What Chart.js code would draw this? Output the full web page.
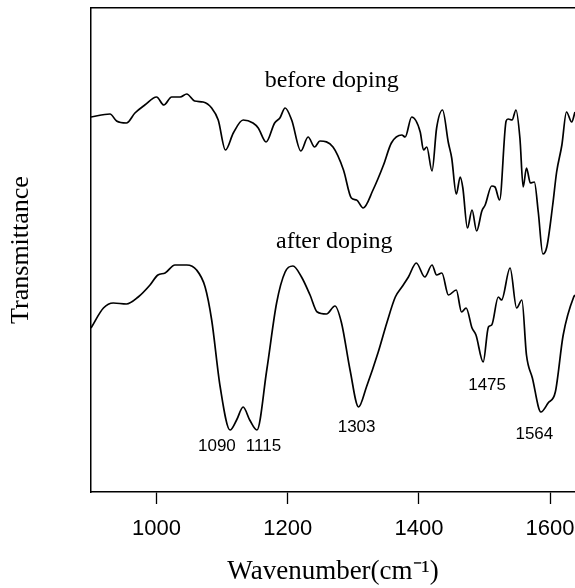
<!DOCTYPE html>
<html>
<head>
<meta charset="utf-8">
<script src="https://cdn.jsdelivr.net/npm/chart.js@4/dist/chart.umd.min.js"></script>
<style>
  body { margin: 0; background: #fff; }
  #wrap { width: 575px; height: 588px; }
</style>
</head>
<body>
<div id="wrap"><canvas id="irChart" width="575" height="588"></canvas></div>
<script>
// wavenumber (cm-1) and transmittance (a.u.)
const beforeWn = [900, 929, 939, 954, 967, 982, 1000, 1011, 1023, 1036, 1046, 1058, 1071, 1084, 1094, 1105,
  1117, 1132, 1147, 1155, 1167, 1180, 1188, 1196, 1206, 1220, 1231, 1241, 1249, 1269, 1285, 1297, 1305,
  1315, 1330, 1346, 1358, 1374, 1379, 1389, 1402, 1407, 1412, 1420, 1427, 1436, 1445, 1450, 1457, 1463,
  1467, 1474, 1481, 1488, 1496, 1501, 1511, 1516, 1523, 1533, 1536, 1542, 1548, 1554, 1559, 1564, 1570,
  1576, 1582, 1589, 1595, 1604, 1610, 1618, 1625, 1633, 1638];
const beforeT = [375, 378, 371, 369, 379, 387, 395, 387, 395, 395, 398, 391, 390, 384, 372, 342,
  359, 372, 369, 364, 350, 369, 374, 384, 372, 341, 355, 345, 351, 345, 322, 294, 292,
  284, 302, 327, 349, 357, 355, 375, 360, 342, 345, 321, 364, 382, 349, 334, 298, 315,
  304, 264, 282, 261, 281, 287, 306, 305, 292, 371, 373, 372, 382, 354, 305, 324, 309,
  310, 280, 238, 245, 287, 320, 347, 380, 370, 380];

const afterWn = [900, 919, 934, 954, 972, 990, 1002, 1013, 1028, 1046, 1061, 1074, 1084, 1097, 1112, 1122,
  1132, 1142, 1153, 1168, 1183, 1196, 1208, 1221, 1234, 1245, 1259, 1272, 1282, 1295, 1308, 1320, 1338,
  1351, 1364, 1374, 1384, 1396, 1409, 1420, 1427, 1435, 1445, 1457, 1465, 1472, 1481, 1487, 1498, 1506,
  1511, 1521, 1526, 1539, 1549, 1557, 1564, 1573, 1586, 1597, 1608, 1620, 1636, 1638];
const afterT = [164, 184, 189, 188, 195, 207, 217, 219, 227, 227, 222, 205, 172, 105, 62, 72,
  85, 72, 62, 122, 189, 220, 226, 215, 197, 180, 178, 186, 169, 122, 85, 105, 140,
  169, 195, 205, 215, 229, 215, 227, 217, 219, 197, 202, 180, 184, 164, 157, 130, 165,
  167, 195, 192, 224, 184, 192, 137, 114, 80, 89, 100, 157, 195, 197];

const xTicks = [1000, 1200, 1400, 1600];

// text placed inside the plot: captions and peak positions
const captionText = ['before doping', 'after doping'];
const captionWn = [1267, 1271];
const captionT = [411, 250];

const peakText = ['1090', '1115', '1303', '1475', '1564'];
const peakWn = [1092, 1163, 1305, 1504, 1576];
const peakT = [46, 46, 65, 107, 58];

function toPoints(xs, ys) {
  return xs.map((x, i) => ({ x: x, y: ys[i] }));
}

// draws the captions and peak numbers through the scales
const plotLabels = {
  id: 'plotLabels',
  afterDatasetsDraw(chart) {
    const ctx = chart.ctx;
    const sx = chart.scales.x;
    const sy = chart.scales.y;
    ctx.save();
    ctx.fillStyle = '#000';
    ctx.textAlign = 'center';
    ctx.textBaseline = 'middle';
    ctx.font = '24px "Liberation Serif", "Times New Roman", serif';
    for (let i = 0; i < captionText.length; i++) {
      ctx.fillText(captionText[i], sx.getPixelForValue(captionWn[i]), sy.getPixelForValue(captionT[i]));
    }
    ctx.font = '17px "Liberation Sans", Arial, sans-serif';
    for (let i = 0; i < peakText.length; i++) {
      ctx.fillText(peakText[i], sx.getPixelForValue(peakWn[i]), sy.getPixelForValue(peakT[i]));
    }
    ctx.restore();
  }
};

const lineStyle = {
  borderColor: '#000',
  borderWidth: 1.7,
  pointRadius: 0,
  fill: false,
  cubicInterpolationMode: 'monotone'
};

new Chart(document.getElementById('irChart'), {
  type: 'line',
  data: {
    datasets: [
      Object.assign({ label: 'before doping', data: toPoints(beforeWn, beforeT) }, lineStyle),
      Object.assign({ label: 'after doping', data: toPoints(afterWn, afterT) }, lineStyle)
    ]
  },
  options: {
    responsive: false,
    animation: false,
    layout: { padding: { top: 8, right: 0, bottom: 0, left: 0 } },
    plugins: {
      legend: { display: false },
      tooltip: { enabled: false }
    },
    scales: {
      x: {
        type: 'linear',
        min: 900,
        max: 1638,
        afterBuildTicks: (scale) => { scale.ticks = xTicks.map(v => ({ value: v })); },
        afterFit: (scale) => { scale.height = 96; scale.paddingLeft = 0; scale.paddingRight = 0; },
        border: { display: true, color: '#000', width: 1.5 },
        grid: { drawOnChartArea: false, drawTicks: true, tickLength: 12, color: '#000', tickWidth: 1.3 },
        ticks: {
          color: '#000',
          padding: 12,
          maxRotation: 0,
          callback: (v) => String(v),
          font: { family: '"Liberation Sans", Arial, sans-serif', size: 22 }
        },
        title: {
          display: true,
          text: 'Wavenumber(cm\u207B\u00B9)',
          color: '#000',
          padding: 0,
          font: { family: '"Liberation Serif", "Times New Roman", serif', size: 27 }
        }
      },
      xTop: {
        type: 'linear',
        position: 'top',
        min: 900,
        max: 1638,
        afterFit: (scale) => { scale.height = 0; },
        border: { display: true, color: '#000', width: 1.5 },
        grid: { display: false, drawTicks: false },
        ticks: { display: false }
      },
      y: {
        type: 'linear',
        min: 0,
        max: 484,
        afterFit: (scale) => { scale.width = 91; },
        border: { display: true, color: '#000', width: 1.5 },
        grid: { display: false, drawTicks: false },
        ticks: { display: false },
        title: {
          display: true,
          text: 'Transmittance',
          color: '#000',
          padding: { top: 6, bottom: 0 },
          font: { family: '"Liberation Serif", "Times New Roman", serif', size: 26 }
        }
      }
    }
  },
  plugins: [plotLabels]
});
</script>
</body>
</html>
